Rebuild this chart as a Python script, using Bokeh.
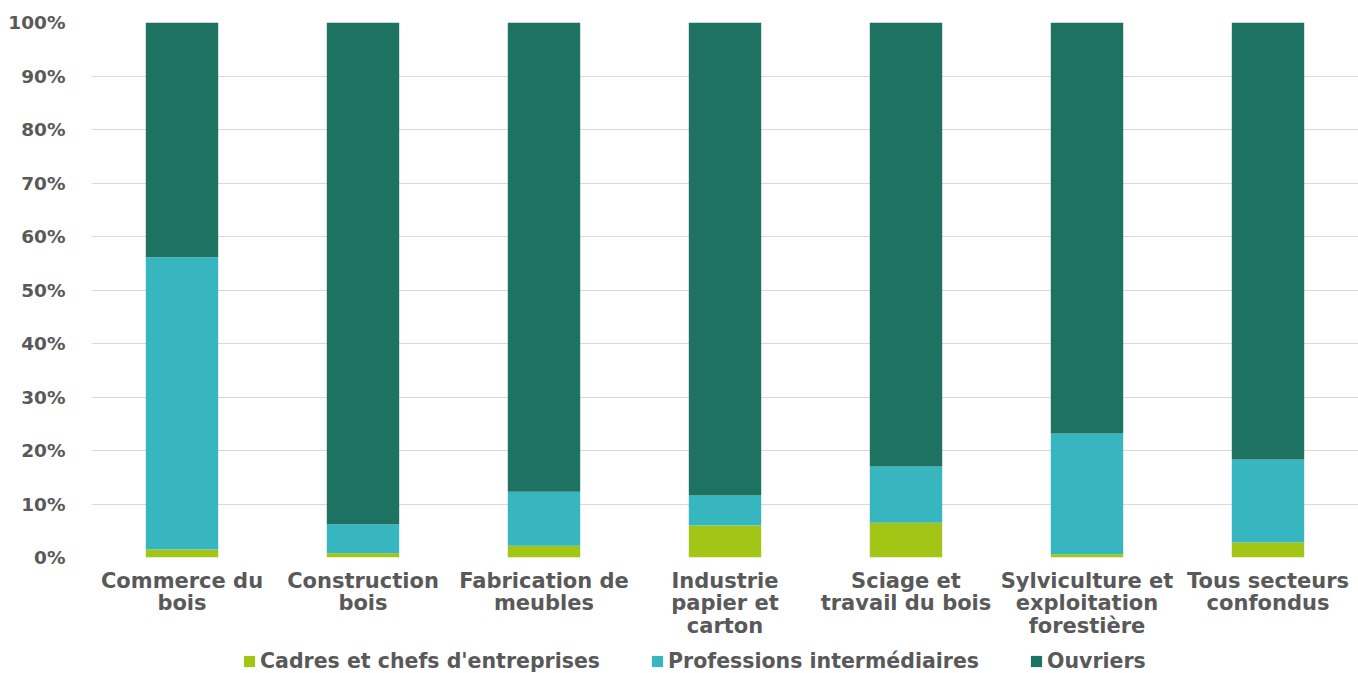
from bokeh.plotting import figure
from bokeh.layouts import column
from bokeh.models import ColumnDataSource, Legend, LegendItem, NumeralTickFormatter, FixedTicker, Range1d
from bokeh.embed import file_html
from bokeh.resources import INLINE

categories = ["Commerce du\nbois", "Construction\nbois", "Fabrication de\nmeubles",
              "Industrie\npapier et\ncarton", "Sciage et\ntravail du bois",
              "Sylviculture et\nexploitation\nforestière", "Tous secteurs\nconfondus"]
series_names = ["Cadres et chefs d'entreprises", "Professions intermédiaires", "Ouvriers"]
cadres = [0.015, 0.008, 0.022, 0.060, 0.065, 0.006, 0.028]
professions = [0.546, 0.054, 0.101, 0.056, 0.105, 0.226, 0.155]
ouvriers = [0.439, 0.938, 0.877, 0.884, 0.830, 0.768, 0.817]
colors = ["#A2C516", "#37B6C0", "#1E7262"]

FONT = "DejaVu Sans"
TXT = "#595959"

source = ColumnDataSource(dict(cat=categories, cadres=cadres, prof=professions, ouv=ouvriers))

p = figure(x_range=categories, y_range=Range1d(0, 1), frame_width=1267, frame_height=535,
           output_backend="svg", toolbar_location=None,
           min_border_top=22, min_border_left=91, min_border_right=0, min_border_bottom=92)

p.vbar_stack(["cadres", "prof", "ouv"], x="cat", width=0.4, source=source,
             color=colors, line_color=None)

p.outline_line_color = None
p.xgrid.grid_line_color = None
p.ygrid.grid_line_color = "#D9D9D9"
p.ygrid.grid_line_width = 1.2
p.yaxis.ticker = FixedTicker(ticks=[i / 10 for i in range(11)])
p.yaxis.formatter = NumeralTickFormatter(format="0%")
for ax in (p.xaxis, p.yaxis):
    ax.axis_line_color = None
    ax.major_tick_line_color = None
    ax.minor_tick_line_color = None
    ax.major_label_text_font = FONT
    ax.major_label_text_font_style = "bold"
    ax.major_label_text_color = TXT
p.yaxis.major_label_text_font_size = "18.5px"
p.xaxis.major_label_text_font_size = "21px"
p.yaxis.major_label_standoff = 20
p.xaxis.major_label_standoff = 5
p.xaxis.major_label_text_line_height = 0.94

# legend strip below the chart
lg = figure(x_range=categories, y_range=Range1d(0, 1), width=1358, height=24,
            output_backend="svg", toolbar_location=None,
            x_axis_type=None, y_axis_type=None,
            min_border=0, outline_line_color=None)
lg.xgrid.grid_line_color = None
lg.ygrid.grid_line_color = None
hidden = lg.vbar_stack(["cadres", "prof", "ouv"], x="cat", width=0.4, source=source,
                       color=colors, line_color=None)
for r in hidden:
    r.visible = False

legend = Legend(items=[LegendItem(label=n, renderers=[r]) for n, r in zip(series_names, hidden)],
                orientation="horizontal", location=(151, 0),
                label_text_font=FONT, label_text_font_style="bold", label_text_color=TXT,
                label_text_font_size="20.5px", glyph_width=14, glyph_height=14,
                spacing=50, padding=0, margin=0, border_line_color=None,
                background_fill_alpha=0, label_standoff=4, label_height=18)
lg.add_layout(legend, "center")

layout = column(p, lg, spacing=0)
open("out.html", "w").write(file_html(layout, INLINE))
